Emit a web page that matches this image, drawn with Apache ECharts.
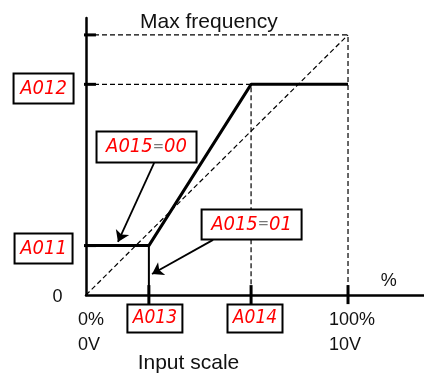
<!DOCTYPE html>
<html>
<head>
<meta charset="utf-8">
<script src="https://cdn.jsdelivr.net/npm/echarts@6/dist/echarts.min.js"></script>
<style>html,body{margin:0;padding:0;background:#fff}#c{width:424px;height:374px}</style>
</head>
<body>
<div id="c"></div>
<script>
// Parameter values (percent of input scale / percent of max frequency)
const A011 = 19;   // start frequency (% of max)
const A012 = 81;   // end frequency (% of max)
const A013 = 24;   // start input (% of scale)
const A014 = 63;   // end input (% of scale)
const MAXF = 100;  // max frequency
const FULL = 100;  // 100% input

const yTickValues = [MAXF, A012, A011];
const xTickValues = [A013, A014, FULL];
const xTickLabels = ['0%\n0V', '100%\n10V'];

const freqCurve = [[0, A011], [A013, A011], [A014, A012], [FULL, A012]];
const zeroStartCurve = [[A013, 0], [A013, A011]];
const diagonal = [[0, 0], [FULL, MAXF]];

const chart = echarts.init(document.getElementById('c'), null, {renderer: 'canvas'});

const BLACK = '#000';
const dashStyle = {color: BLACK, width: 1.2, type: [5, 3]};
const series = [];

function lineSeries(data, lineStyle, z) {
  series.push({type: 'line', data: data, symbol: 'none', clip: false, silent: true,
    lineStyle: lineStyle, z: z || 2, animation: false});
}

// dashed guides
lineSeries(diagonal, dashStyle);
lineSeries([[0, MAXF], [FULL, MAXF], [FULL, 0]], dashStyle);
lineSeries([[0, A012], [A014, A012], [A014, 0]], dashStyle);
// characteristic
lineSeries(freqCurve, {color: BLACK, width: 3}, 4);
lineSeries(zeroStartCurve, {color: BLACK, width: 2}, 4);
// ticks
yTickValues.forEach(v => lineSeries([[-3.05, v], [3.8, v]], {color: BLACK, width: 3}, 5));
xTickValues.forEach(v => lineSeries([[v, -3.5], [v, 3.8]], {color: BLACK, width: 3}, 5));

// arrows
series.push({
  type: 'lines', coordinateSystem: 'cartesian2d', silent: true, z: 6,
  symbol: ['none', 'arrow'], symbolSize: 11,
  lineStyle: {color: BLACK, width: 1.8, opacity: 1},
  data: [
    {coords: [[26.0, 50.8], [12.2, 20.4]]},
    {coords: [[48.5, 21.2], [25.2, 8.1]]}
  ]
});

const redStyle = {color: '#ff0000', fontFamily: 'DejaVu Sans Condensed', fontStyle: 'italic', fontSize: 20};
const eqStyle = {color: '#777', fontFamily: 'DejaVu Sans Condensed', fontSize: 15};
function boxLabel(x, y, text, w, h, fs) {
  const r = Object.assign({lineHeight: h}, redStyle);
  if (fs) r.fontSize = fs;
  return {value: [x, y], label: {
    show: true, position: 'inside', formatter: text, opacity: 1,
    backgroundColor: '#fff', borderColor: BLACK, borderWidth: 2,
    width: w, height: h, align: 'center', verticalAlign: 'middle', lineHeight: h,
    rich: {r: r, e: Object.assign({lineHeight: h}, eqStyle)}
  }};
}
const plainFont = {color: '#111', fontFamily: 'Liberation Sans', fontSize: 18, opacity: 1};
function textLabel(x, y, text, opts) {
  return {value: [x, y], label: Object.assign({show: true, position: 'inside', formatter: text}, plainFont, opts || {})};
}

series.push({
  type: 'scatter', symbolSize: 0, clip: false, silent: true, z: 10,
  itemStyle: {opacity: 1},
  data: [
    boxLabel(-16.2, 79.4, '{r|A012}', 58, 28),
    boxLabel(-16.2, 17.9, '{r|A011}', 56, 28),
    boxLabel(23.1, 56.9, '{r|A015}{e|=}{r|00}', 98, 29),
    boxLabel(63.2, 27.1, '{r|A015}{e|=}{r|01}', 98, 28),
    boxLabel(26.3, -9.0, '{r|A013}', 53, 26, 19),
    boxLabel(64.5, -9.0, '{r|A014}', 53, 26, 19),
    textLabel(46.9, 105.0, 'Max frequency', {fontSize: 21}),
    textLabel(39.1, -26.4, 'Input scale', {fontSize: 21}),
    textLabel(-10.9, -0.8, '0'),
    textLabel(115.5, 5.4, '%'),
    textLabel(-3.05, -14.6, xTickLabels[0], {align: 'left', lineHeight: 25}),
    textLabel(92.7, -14.6, xTickLabels[1], {align: 'left', lineHeight: 25})
  ]
});

chart.setOption({
  animation: false,
  grid: {left: 86, right: 0, top: 18, bottom: 79, containLabel: false},
  xAxis: {type: 'value', min: 0, max: 129,
    axisLine: {show: true, onZero: false, lineStyle: {color: BLACK, width: 2.5}},
    axisTick: {show: false}, axisLabel: {show: false}, splitLine: {show: false}},
  yAxis: {type: 'value', min: 0, max: 106.5,
    axisLine: {show: true, onZero: false, lineStyle: {color: BLACK, width: 2.5}},
    axisTick: {show: false}, axisLabel: {show: false}, splitLine: {show: false}},
  series: series
});
</script>
</body>
</html>
